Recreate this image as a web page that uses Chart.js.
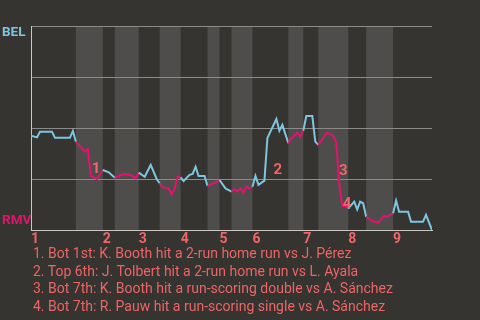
<!DOCTYPE html>
<html><head><meta charset="utf-8">
<script src="https://cdn.jsdelivr.net/npm/chart.js@4.4.0/dist/chart.umd.min.js"></script>
<style>
html,body{margin:0;padding:0;background:#363431;width:480px;height:320px;overflow:hidden;}
#wrap{position:relative;width:480px;height:320px;}
canvas{position:absolute;left:0;top:0;}
#notes{position:absolute;left:33px;top:245px;font-family:"Roboto",sans-serif;font-size:14px;line-height:17.5px;color:#ec6565;white-space:nowrap;}
</style></head>
<body><div id="wrap"><canvas id="c" width="480" height="320"></canvas><div id="notes"></div></div>
<script>
const playIdx=[0,2,3,7,8,13,14,15,17,18,19,20,22,24,26,28,31,33,34,35,36,38,40,42,43,44,46,47,48,49,50,51,53,54,55,56,58,59,61,62,63,65,67,68,69,70,71,72,73,74,75,76,78,79,80,82,83,84,86,87,89,90,91,92,94,95,96,99,101,102,103,104,105,106,108,109,110,111,112,113,114,116,117,118,119,120,121,122,123,126,127,131,132,134];
const belWinPct=[46.2,45.4,48.2,48.2,45.2,45.2,48.5,43.3,40.0,38.4,39.7,26.5,24.9,29.4,28.3,25.6,27.5,27.0,26.5,25.3,28.1,26.1,31.9,25.0,22.9,20.9,20.4,17.5,20.4,26.1,25.8,24.0,27.0,27.5,31.0,26.5,26.5,21.6,22.9,23.5,24.5,20.4,18.8,20.0,18.8,20.4,18.3,21.2,20.4,21.2,26.5,22.1,24.2,45.1,48.2,54.4,48.7,51.5,42.5,45.0,47.7,45.7,48.7,55.9,55.9,43.3,41.7,47.9,46.1,42.8,22.9,11.8,11.8,10.5,13.9,10.1,13.9,13.1,6.5,5.5,4.4,3.6,5.2,6.9,6.5,7.4,8.2,14.4,9.0,9.0,4.1,4.1,7.4,0];
const inningStarts=[0,24,36,50,63,74,91,106,121];
const inningLabels=['1','2','3','4','5','6','7','8','9'];
const bottomStarts=[15,28,43,59,67,86,96,112];
const bottomEnds=[24,36,50,63,74,91,106,121];
const gameEnd=134;
const teams=['BEL','RMV'];
const eventLabels=['1','2','3','4'];
const eventX=[21.7,82.5,104.4,105.6];
const eventY=[29.9,29.4,28.9,12.7];
const eventNotes=[
 '1. Bot 1st: K. Booth hit a 2-run home run vs J. Pérez',
 '2. Top 6th: J. Tolbert hit a 2-run home run vs L. Ayala',
 '3. Bot 7th: K. Booth hit a run-scoring double vs A. Sánchez',
 '4. Bot 7th: R. Pauw hit a run-scoring single vs A. Sánchez'
];

const BG='#363431', BAND='#4f4d4b', BLUE='#7ec6e0', PINK='#e2136e', SALMON='#ee6666';
const FONT='Roboto';

document.getElementById('notes').innerHTML=eventNotes.map(t=>'<div>'+t+'</div>').join('');

function isBottom(v){for(let i=0;i<bottomStarts.length;i++){if(v>=bottomStarts[i]&&v<bottomEnds[i])return true;}return false;}

const bandPlugin={id:'bands',beforeDraw(chart){const {ctx,chartArea:a,scales:{x}}=chart;ctx.save();ctx.fillStyle=BG;ctx.fillRect(0,0,chart.width,chart.height);ctx.fillStyle=BAND;for(let i=0;i<bottomStarts.length;i++){const x0=x.getPixelForValue(bottomStarts[i]),x1=x.getPixelForValue(bottomEnds[i]);ctx.fillRect(x0,a.top,x1-x0,a.bottom-a.top);}ctx.restore();}};
const textPlugin={id:'texts',afterDatasetsDraw(chart){const {ctx,scales:{x,y}}=chart;ctx.save();ctx.textBaseline='middle';ctx.textAlign='left';ctx.font='bold 13.5px '+FONT;ctx.fillStyle=BLUE;ctx.fillText(teams[0],2,y.getPixelForValue(100)+7);ctx.fillStyle=PINK;ctx.fillText(teams[1],2,y.getPixelForValue(0)-9);ctx.font='bold 15px '+FONT;ctx.fillStyle=SALMON;ctx.textAlign='center';for(let i=0;i<eventLabels.length;i++){ctx.fillText(eventLabels[i],x.getPixelForValue(eventX[i]),y.getPixelForValue(eventY[i]));}ctx.restore();}};

new Chart(document.getElementById('c'),{
 type:'line',
 data:{datasets:[{data:playIdx.map((v,i)=>({x:v,y:belWinPct[i]})),borderWidth:2,pointRadius:0,tension:0,borderColor:BLUE,
   segment:{borderColor:c=>isBottom(c.p0.parsed.x)?PINK:BLUE}}]},
 plugins:[bandPlugin,textPlugin],
 options:{responsive:false,devicePixelRatio:1,animation:false,
  layout:{padding:{left:31,top:26,right:48,bottom:70}},
  plugins:{legend:{display:false},tooltip:{enabled:false}},
  scales:{
   x:{type:'linear',min:0,max:gameEnd,afterFit(s){s.height=20;},
      afterBuildTicks(s){s.ticks=inningStarts.map(v=>({value:v}));},
      grid:{display:false,drawTicks:false},border:{display:true,color:'#c9c7c3',width:1},
      ticks:{align:'start',padding:1,color:SALMON,font:{family:FONT,size:14,weight:'bold'},callback:(v)=>inningLabels[inningStarts.indexOf(v)],maxRotation:0,autoSkip:false}},
   y:{min:0,max:100,afterFit(s){s.width=0;},
      ticks:{display:false,stepSize:25},
      grid:{color:'#8d8b87',lineWidth:1,drawTicks:false},border:{display:true,color:'#c9c7c3',width:1}}
  }}
});
</script></body></html>
